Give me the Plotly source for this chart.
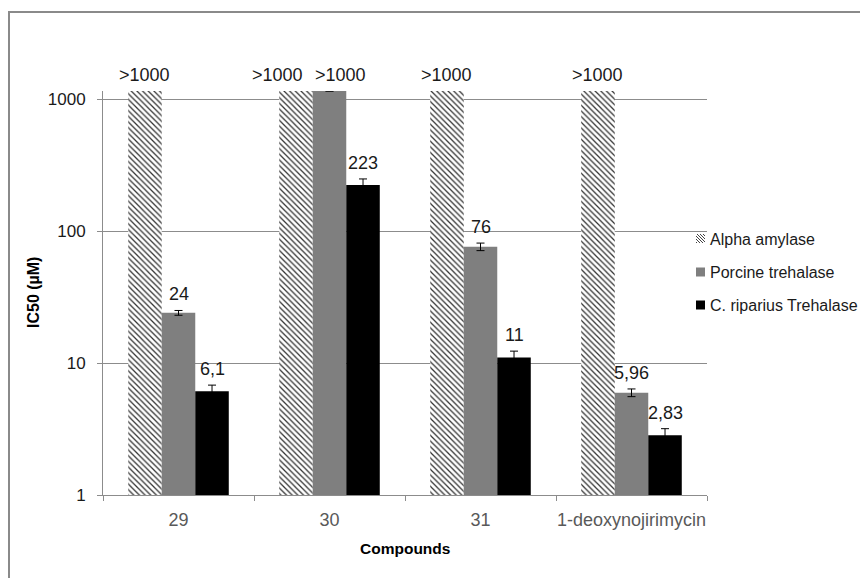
import math
import plotly.graph_objects as go

categories = ["29", "30", "31", "1-deoxynojirimycin"]
series_names = ["Alpha amylase", "Porcine trehalase", "C. riparius Trehalase"]
alpha_vals = [1150, 1150, 1150, 1150]
porcine_vals = [24, 1150, 76, 5.96]
cripar_vals = [6.1, 223, 11, 2.83]
alpha_err = [None, None, None, None]
porcine_err = [1.0, None, 5.0, 0.4]
cripar_err = [0.7, 25.0, 1.3, 0.35]
alpha_labels = [">1000", ">1000", ">1000", ">1000"]
porcine_labels = ["24", ">1000", "76", "5,96"]
cripar_labels = ["6,1", "223", "11", "2,83"]
y_tickvals = [1, 10, 100, 1000]
y_top = 1150

# style / layout settings (not data)
W, H = 860, 578
ML, MR, MT, MB = 103, 153, 91, 83
PW, PH = W - ML - MR, H - MT - MB
BARGAP = 0.334
FONT = "Liberation Sans"
# label nudges (pixels) so crowded labels do not collide, as in the reference
label_xshift = {(0, 1): -18, (1, 1): 11}

HATCH = dict(shape="\\", fgcolor="#333333", bgcolor="white", size=4, solidity=0.32)

def px(x):
    return (x - ML) / PW

def py(y):
    return 1 - (y - MT) / PH

fig = go.Figure()
fig.add_trace(go.Bar(
    name=series_names[0], x=categories, y=alpha_vals,
    marker=dict(color="white", line=dict(width=0), pattern=HATCH),
))
fig.add_trace(go.Bar(
    name=series_names[1], x=categories, y=porcine_vals,
    marker=dict(color="#7f7f7f", line=dict(width=0)),
    error_y=dict(type="data", array=porcine_err, color="black", thickness=1, width=4),
))
fig.add_trace(go.Bar(
    name=series_names[2], x=categories, y=cripar_vals,
    marker=dict(color="black", line=dict(width=0)),
    error_y=dict(type="data", array=cripar_err, color="black", thickness=1, width=4),
))

annotations = []
groups = [(alpha_vals, alpha_err, alpha_labels),
          (porcine_vals, porcine_err, porcine_labels),
          (cripar_vals, cripar_err, cripar_labels)]
bw = (1 - BARGAP) / 3
for k, (vals, errs, labs) in enumerate(groups):
    for i, (v, e, lab) in enumerate(zip(vals, errs, labs)):
        top = v + (e or 0)
        annotations.append(dict(
            x=i + (k - 1) * bw, y=math.log10(top), xref="x", yref="y",
            text=lab, showarrow=False, yanchor="bottom", yshift=4,
            xshift=label_xshift.get((k, i), 0),
            font=dict(family=FONT, size=18, color="#1a1a1a"),
        ))

# axis titles
annotations.append(dict(text="<b>IC50 (µM)</b>", xref="paper", yref="paper", x=px(33), y=0.5,
                        textangle=-90, showarrow=False, xanchor="center", yanchor="middle",
                        font=dict(family=FONT, size=16, color="black")))
annotations.append(dict(text="<b>Compounds</b>", xref="paper", yref="paper", x=0.5, y=py(548),
                        showarrow=False, xanchor="center", yanchor="middle",
                        font=dict(family=FONT, size=15.5, color="black")))

# manual legend (text as annotations, icons as shapes)
leg_rows = [239, 272, 305]
leg_icon_x0, leg_icon_x1 = 696, 705
shapes = []
for name, yc in zip(series_names, leg_rows):
    annotations.append(dict(text=name, xref="paper", yref="paper", x=px(708), y=py(yc),
                            xanchor="left", yanchor="middle", showarrow=False,
                            font=dict(family=FONT, size=16, color="#1a1a1a")))
# hatched icon: diagonal strokes
yc = leg_rows[0]
top, bot = yc - 5, yc + 4
path = ""
for off in range(-8, 10, 3):
    xa, ya = leg_icon_x0 + off, top
    xb, yb = xa + (bot - top), bot
    if xa < leg_icon_x0:
        ya += leg_icon_x0 - xa; xa = leg_icon_x0
    if xb > leg_icon_x1:
        yb -= xb - leg_icon_x1; xb = leg_icon_x1
    if xb <= xa:
        continue
    path += f"M{px(xa)},{py(ya)} L{px(xb)},{py(yb)} "
shapes.append(dict(type="path", xref="paper", yref="paper", path=path,
                   line=dict(color="#444444", width=1)))
for col, yc in zip(["#7f7f7f", "black"], leg_rows[1:]):
    shapes.append(dict(type="rect", xref="paper", yref="paper",
                       x0=px(leg_icon_x0), x1=px(leg_icon_x1), y0=py(yc + 4.5), y1=py(yc - 4.5),
                       fillcolor=col, line=dict(width=0)))
# outer chart frame
shapes.append(dict(type="rect", xref="paper", yref="paper",
                   x0=px(9), x1=px(900), y0=py(620), y1=py(12),
                   line=dict(color="#8a8a8a", width=2), fillcolor="rgba(0,0,0,0)", layer="below"))

fig.update_layout(
    template="none",
    width=W, height=H,
    margin=dict(l=ML, r=MR, t=MT, b=MB, pad=0),
    paper_bgcolor="white", plot_bgcolor="white",
    barmode="group", bargap=BARGAP, bargroupgap=0,
    annotations=annotations, shapes=shapes,
    showlegend=False,
)
fig.update_xaxes(
    type="category", showgrid=False, showline=True, linecolor="#8c8c8c", linewidth=1,
    ticks="outside", tickson="boundaries", ticklen=5, tickcolor="#8c8c8c", tickangle=0,
    ticklabelstandoff=8, automargin=False,
    tickfont=dict(family=FONT, size=18, color="#595959"), zeroline=False,
)
fig.update_yaxes(
    type="log", range=[0, math.log10(y_top)], tickvals=y_tickvals,
    ticktext=[str(t) for t in y_tickvals],
    showgrid=True, gridcolor="#8c8c8c", gridwidth=1,
    showline=True, linecolor="#8c8c8c", linewidth=1,
    ticks="outside", ticklen=5, tickcolor="#8c8c8c", ticklabelstandoff=8, automargin=False,
    tickfont=dict(family=FONT, size=17, color="#1a1a1a"), zeroline=False,
)

fig.write_html("out.html")
